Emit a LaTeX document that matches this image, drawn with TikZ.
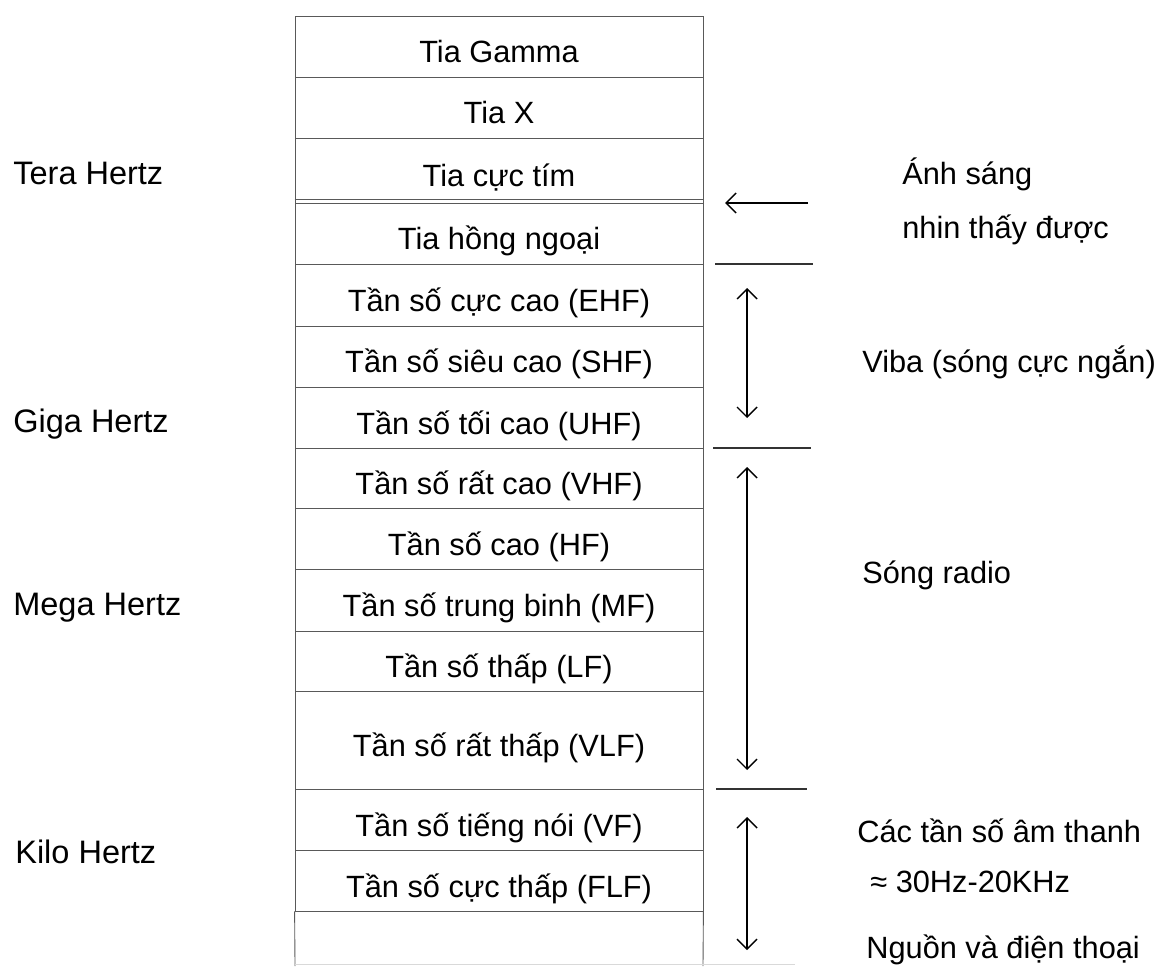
\documentclass[tikz,border=0pt]{standalone}
\usepackage{fontspec}
\setmainfont{Liberation Sans}
\usepackage{tikz}
\usetikzlibrary{positioning}
\usetikzlibrary{arrows.meta}
\tikzset{
band/.style={
  rectangle,
  draw=black!65,
  line width=0.5pt,
  inner sep=0pt,
  minimum width=8.16cm,
  minimum height=1.22cm,
  text height=0.66cm,
  text depth=0pt,
  align=center
  },
lbl/.style={anchor=base west,inner sep=0pt},
big/.style={font=\fontsize{18.5}{22}\selectfont},
sep/.style={line width=0.6pt,black!80},
rng/.style={<->,line width=0.8pt}
}

\begin{document}
\begin{tikzpicture}[x=0.02cm,y=-0.02cm,>={Straight Barb[length=2mm,width=4mm]},font=\fontsize{17.5}{21}\selectfont]
        \useasboundingbox (0,0) rectangle (1158,966);
        % bands of the spectrum
        \node[band] at (499,46.5) (gamma) {Tia Gamma};
        \node[band] at (499,107.5) (xray) {Tia X};
        \node[band,minimum height=1.3cm] at (499,170.5) (uv) {Tia cực tím};
        \node[band] at (499,233.5) (ir) {Tia hồng ngoại};
        \node[band,minimum height=1.24cm] at (499,295) (ehf) {Tần số cực cao (EHF)};
        \node[band] at (499,356.5) (shf) {Tần số siêu cao (SHF)};
        \node[band] at (499,417.5) (uhf) {Tần số tối cao (UHF)};
        \node[band,minimum height=1.2cm] at (499,478) (vhf) {Tần số rất cao (VHF)};
        \node[band] at (499,538.5) (hf) {Tần số cao (HF)};
        \node[band,minimum height=1.24cm] at (499,600) (mf) {Tần số trung binh (MF)};
        \node[band,minimum height=1.2cm] at (499,661) (lf) {Tần số thấp (LF)};
        \node[band,minimum height=1.96cm] at (499,740) (vlf) {Tần số rất thấp (VLF)};
        \node[band] at (499,819.5) (vf) {Tần số tiếng nói (VF)};
        \node[band] at (499,880.5) (flf) {Tần số cực thấp (FLF)};
        \draw[black!65,line width=0.5pt] ([yshift=0.08cm]uv.south west) -- ([yshift=0.08cm]uv.south east);
        \coordinate (botL) at (295,966);
        \coordinate (botR) at (703,966);
        \draw[black!65,line width=0.5pt] (flf.south west) -- (botL) (flf.south east) -- (botR);
        \coordinate (edgeL) at (295,964);
        \coordinate (edgeR) at (795,964);
        \draw[black!15,line width=0.5pt] (edgeL) -- (edgeR);
        % left labels
        \node[lbl,big] at (13,185) (tera) {Tera Hertz};
        \node[lbl,big] at (13,432) (giga) {Giga Hertz};
        \node[lbl,big] at (13,615) (mega) {Mega Hertz};
        \node[lbl,big] at (15,863) (kilo) {Kilo Hertz};
        % right labels
        \node[lbl] at (902,185) (vis1) {Ánh sáng};
        \node[lbl] at (902,238) (vis2) {nhin thấy được};
        \node[lbl] at (862,372) (viba) {Viba (sóng cực ngắn)};
        \node[lbl] at (862,583) (radio) {Sóng radio};
        \node[lbl] at (857,842) (audio1) {Các tần số âm thanh};
        \node[lbl] at (870,892) (audio2) {≈ 30Hz-20KHz};
        \node[lbl] at (866,958) (phone) {Nguồn và điện thoại};
        % arrows and separators
        \coordinate (visA) at (808,203);
        \coordinate (visB) at (725,203);
        \coordinate (s1a) at (715,264);
        \coordinate (s1b) at (813,264);
        \coordinate (s2a) at (713,448);
        \coordinate (s2b) at (811,448);
        \coordinate (s3a) at (716,789);
        \coordinate (s3b) at (807,789);
        \coordinate (vibT) at (747,288);
        \coordinate (vibB) at (747,418);
        \coordinate (radT) at (747,467);
        \coordinate (radB) at (747,770);
        \coordinate (audT) at (747,817);
        \coordinate (audB) at (747,950);
        \draw[->,line width=0.8pt] (visA) -- (visB);
        \draw[sep] (s1a) -- (s1b);
        \draw[sep] (s2a) -- (s2b);
        \draw[sep] (s3a) -- (s3b);
        \draw[rng] (vibT) -- (vibB);
        \draw[rng] (radT) -- (radB);
        \draw[rng] (audT) -- (audB);
    \end{tikzpicture}
\end{document}
